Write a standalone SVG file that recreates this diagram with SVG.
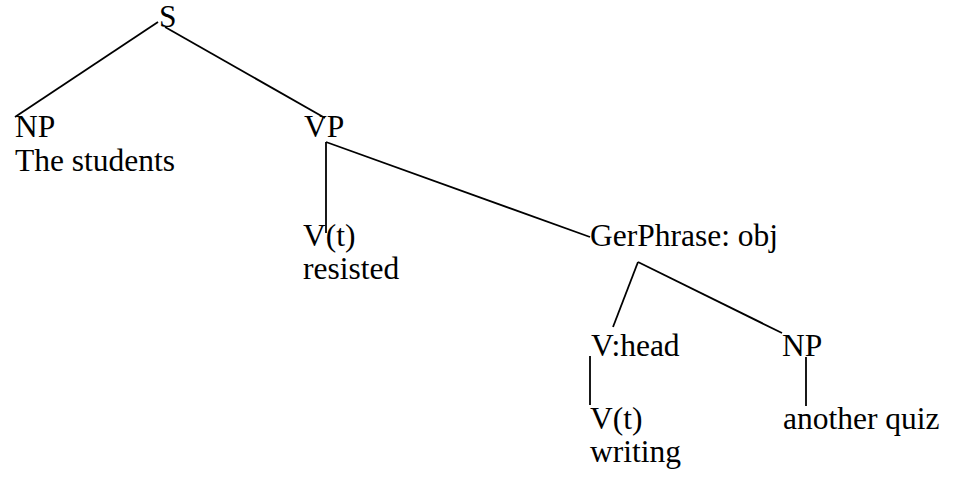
<svg xmlns="http://www.w3.org/2000/svg" width="953" height="482" viewBox="0 0 953 482">
<style>
text{font-family:"Liberation Serif","Times New Roman",serif;font-size:31.5px;fill:#000}
line{stroke:#000;stroke-width:1.8}
</style>
<rect width="953" height="482" fill="#fff"/>
<g id="connectors">
<line x1="158" y1="22" x2="15" y2="117"/>
<line x1="165" y1="27" x2="325" y2="118"/>
<line x1="326" y1="142" x2="326" y2="233"/>
<line x1="326" y1="142" x2="590" y2="237"/>
<line x1="638" y1="262" x2="613" y2="327"/>
<line x1="638" y1="262" x2="782" y2="333"/>
<line x1="590" y1="356" x2="590" y2="405"/>
<line x1="806" y1="357" x2="806" y2="406"/>
</g>
<g id="S"><text x="159" y="27">S</text></g>
<g id="NP1"><text x="15" y="137">NP</text><text x="15" y="171">The students</text></g>
<g id="VP"><text x="304" y="137">VP</text></g>
<g id="Vt1"><text x="303" y="246">V(t)</text><text x="303" y="279">resisted</text></g>
<g id="GerPhrase"><text x="590" y="246">GerPhrase: obj</text></g>
<g id="Vhead"><text x="591" y="356">V:head</text></g>
<g id="NP2"><text x="782" y="356">NP</text></g>
<g id="Vt2"><text x="590" y="429">V(t)</text><text x="590" y="462">writing</text></g>
<g id="quiz"><text x="783" y="429">another quiz</text></g>
</svg>
